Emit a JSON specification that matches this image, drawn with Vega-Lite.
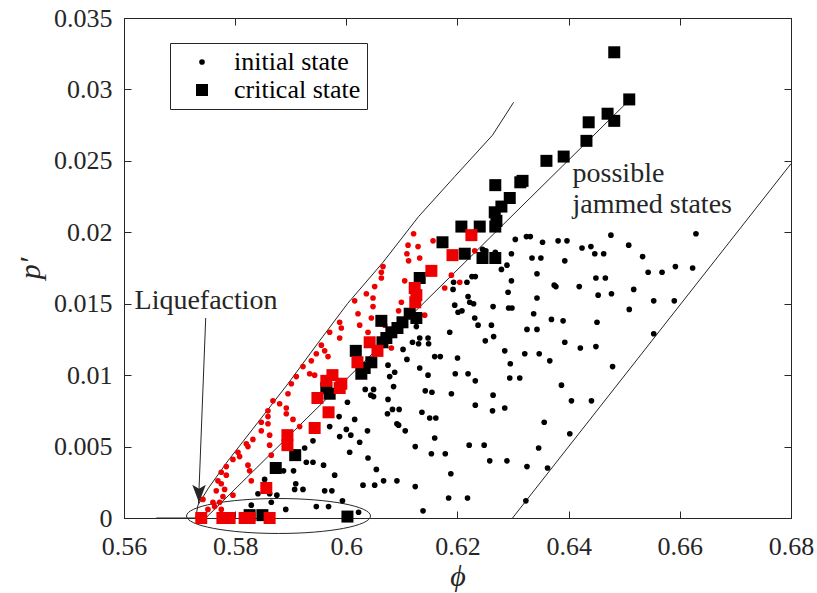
{
"$schema":"https://vega.github.io/schema/vega-lite/v6.json",
"width":667,"height":500,
"autosize":{"type":"none"},
"padding":{"left":124,"top":18,"right":26,"bottom":75},
"background":"white",
"datasets":{
"pts":[
{"phi":0.6304,"p":0.0195,"state":"initial state","kind":"jammed"},
{"phi":0.6324,"p":0.0197,"state":"initial state","kind":"jammed"},
{"phi":0.6331,"p":0.0197,"state":"initial state","kind":"jammed"},
{"phi":0.6353,"p":0.0193,"state":"initial state","kind":"jammed"},
{"phi":0.6381,"p":0.0194,"state":"initial state","kind":"jammed"},
{"phi":0.6397,"p":0.0194,"state":"initial state","kind":"jammed"},
{"phi":0.6476,"p":0.0198,"state":"initial state","kind":"jammed"},
{"phi":0.6629,"p":0.0199,"state":"initial state","kind":"jammed"},
{"phi":0.6424,"p":0.0189,"state":"initial state","kind":"jammed"},
{"phi":0.6440,"p":0.0190,"state":"initial state","kind":"jammed"},
{"phi":0.6447,"p":0.0185,"state":"initial state","kind":"jammed"},
{"phi":0.6463,"p":0.0185,"state":"initial state","kind":"jammed"},
{"phi":0.6508,"p":0.0191,"state":"initial state","kind":"jammed"},
{"phi":0.6533,"p":0.0183,"state":"initial state","kind":"jammed"},
{"phi":0.6297,"p":0.0185,"state":"initial state","kind":"jammed"},
{"phi":0.6334,"p":0.0182,"state":"initial state","kind":"jammed"},
{"phi":0.6350,"p":0.0182,"state":"initial state","kind":"jammed"},
{"phi":0.6393,"p":0.0180,"state":"initial state","kind":"jammed"},
{"phi":0.6279,"p":0.0174,"state":"initial state","kind":"jammed"},
{"phi":0.6289,"p":0.0177,"state":"initial state","kind":"jammed"},
{"phi":0.6297,"p":0.0166,"state":"initial state","kind":"jammed"},
{"phi":0.6343,"p":0.0171,"state":"initial state","kind":"jammed"},
{"phi":0.6543,"p":0.0172,"state":"initial state","kind":"jammed"},
{"phi":0.6568,"p":0.0172,"state":"initial state","kind":"jammed"},
{"phi":0.6592,"p":0.0176,"state":"initial state","kind":"jammed"},
{"phi":0.6623,"p":0.0175,"state":"initial state","kind":"jammed"},
{"phi":0.6449,"p":0.0168,"state":"initial state","kind":"jammed"},
{"phi":0.6466,"p":0.0168,"state":"initial state","kind":"jammed"},
{"phi":0.6374,"p":0.0163,"state":"initial state","kind":"jammed"},
{"phi":0.6377,"p":0.0162,"state":"initial state","kind":"jammed"},
{"phi":0.6419,"p":0.0162,"state":"initial state","kind":"jammed"},
{"phi":0.6517,"p":0.0160,"state":"initial state","kind":"jammed"},
{"phi":0.6477,"p":0.0157,"state":"initial state","kind":"jammed"},
{"phi":0.6453,"p":0.0156,"state":"initial state","kind":"jammed"},
{"phi":0.6217,"p":0.0165,"state":"initial state","kind":"jammed"},
{"phi":0.6226,"p":0.0169,"state":"initial state","kind":"jammed"},
{"phi":0.6232,"p":0.0169,"state":"initial state","kind":"jammed"},
{"phi":0.6219,"p":0.0155,"state":"initial state","kind":"jammed"},
{"phi":0.6291,"p":0.0158,"state":"initial state","kind":"jammed"},
{"phi":0.6343,"p":0.0154,"state":"initial state","kind":"jammed"},
{"phi":0.6553,"p":0.0152,"state":"initial state","kind":"jammed"},
{"phi":0.6590,"p":0.0152,"state":"initial state","kind":"jammed"},
{"phi":0.6509,"p":0.0146,"state":"initial state","kind":"jammed"},
{"phi":0.6222,"p":0.0151,"state":"initial state","kind":"jammed"},
{"phi":0.6229,"p":0.0150,"state":"initial state","kind":"jammed"},
{"phi":0.6264,"p":0.0148,"state":"initial state","kind":"jammed"},
{"phi":0.6292,"p":0.0147,"state":"initial state","kind":"jammed"},
{"phi":0.6298,"p":0.0147,"state":"initial state","kind":"jammed"},
{"phi":0.6208,"p":0.0145,"state":"initial state","kind":"jammed"},
{"phi":0.6337,"p":0.0143,"state":"initial state","kind":"jammed"},
{"phi":0.6231,"p":0.0140,"state":"initial state","kind":"jammed"},
{"phi":0.6237,"p":0.0135,"state":"initial state","kind":"jammed"},
{"phi":0.6261,"p":0.0135,"state":"initial state","kind":"jammed"},
{"phi":0.6369,"p":0.0139,"state":"initial state","kind":"jammed"},
{"phi":0.6390,"p":0.0138,"state":"initial state","kind":"jammed"},
{"phi":0.6451,"p":0.0137,"state":"initial state","kind":"jammed"},
{"phi":0.6325,"p":0.0132,"state":"initial state","kind":"jammed"},
{"phi":0.6343,"p":0.0132,"state":"initial state","kind":"jammed"},
{"phi":0.6553,"p":0.0129,"state":"initial state","kind":"jammed"},
{"phi":0.6265,"p":0.0127,"state":"initial state","kind":"jammed"},
{"phi":0.6250,"p":0.0124,"state":"initial state","kind":"jammed"},
{"phi":0.6393,"p":0.0123,"state":"initial state","kind":"jammed"},
{"phi":0.6421,"p":0.0119,"state":"initial state","kind":"jammed"},
{"phi":0.6449,"p":0.0120,"state":"initial state","kind":"jammed"},
{"phi":0.6285,"p":0.0117,"state":"initial state","kind":"jammed"},
{"phi":0.6321,"p":0.0115,"state":"initial state","kind":"jammed"},
{"phi":0.6347,"p":0.0115,"state":"initial state","kind":"jammed"},
{"phi":0.6295,"p":0.0108,"state":"initial state","kind":"jammed"},
{"phi":0.6366,"p":0.0110,"state":"initial state","kind":"jammed"},
{"phi":0.6479,"p":0.0106,"state":"initial state","kind":"jammed"},
{"phi":0.6219,"p":0.0101,"state":"initial state","kind":"jammed"},
{"phi":0.6232,"p":0.0096,"state":"initial state","kind":"jammed"},
{"phi":0.6294,"p":0.0098,"state":"initial state","kind":"jammed"},
{"phi":0.6312,"p":0.0098,"state":"initial state","kind":"jammed"},
{"phi":0.6387,"p":0.0093,"state":"initial state","kind":"jammed"},
{"phi":0.6264,"p":0.0086,"state":"initial state","kind":"jammed"},
{"phi":0.6232,"p":0.0079,"state":"initial state","kind":"jammed"},
{"phi":0.6285,"p":0.0077,"state":"initial state","kind":"jammed"},
{"phi":0.6263,"p":0.0075,"state":"initial state","kind":"jammed"},
{"phi":0.6405,"p":0.0082,"state":"initial state","kind":"jammed"},
{"phi":0.6441,"p":0.0082,"state":"initial state","kind":"jammed"},
{"phi":0.6356,"p":0.0067,"state":"initial state","kind":"jammed"},
{"phi":0.6402,"p":0.0059,"state":"initial state","kind":"jammed"},
{"phi":0.6221,"p":0.0051,"state":"initial state","kind":"jammed"},
{"phi":0.6248,"p":0.0051,"state":"initial state","kind":"jammed"},
{"phi":0.6346,"p":0.0049,"state":"initial state","kind":"jammed"},
{"phi":0.6258,"p":0.0040,"state":"initial state","kind":"jammed"},
{"phi":0.6289,"p":0.0040,"state":"initial state","kind":"jammed"},
{"phi":0.6325,"p":0.0036,"state":"initial state","kind":"jammed"},
{"phi":0.6362,"p":0.0035,"state":"initial state","kind":"jammed"},
{"phi":0.6218,"p":0.0014,"state":"initial state","kind":"jammed"},
{"phi":0.6323,"p":0.0012,"state":"initial state","kind":"jammed"},
{"phi":0.6245,"p":0.0188,"state":"initial state","kind":"jammed"},
{"phi":0.6251,"p":0.0187,"state":"initial state","kind":"jammed"},
{"phi":0.6268,"p":0.0186,"state":"initial state","kind":"jammed"},
{"phi":0.6034,"p":0.0090,"state":"initial state","kind":"jammed"},
{"phi":0.6049,"p":0.0090,"state":"initial state","kind":"jammed"},
{"phi":0.6085,"p":0.0092,"state":"initial state","kind":"jammed"},
{"phi":0.6142,"p":0.0089,"state":"initial state","kind":"jammed"},
{"phi":0.6154,"p":0.0088,"state":"initial state","kind":"jammed"},
{"phi":0.6189,"p":0.0087,"state":"initial state","kind":"jammed"},
{"phi":0.6044,"p":0.0086,"state":"initial state","kind":"jammed"},
{"phi":0.6049,"p":0.0085,"state":"initial state","kind":"jammed"},
{"phi":0.6075,"p":0.0083,"state":"initial state","kind":"jammed"},
{"phi":0.6002,"p":0.0081,"state":"initial state","kind":"jammed"},
{"phi":0.6083,"p":0.0076,"state":"initial state","kind":"jammed"},
{"phi":0.6095,"p":0.0076,"state":"initial state","kind":"jammed"},
{"phi":0.6074,"p":0.0073,"state":"initial state","kind":"jammed"},
{"phi":0.6136,"p":0.0074,"state":"initial state","kind":"jammed"},
{"phi":0.5987,"p":0.0071,"state":"initial state","kind":"jammed"},
{"phi":0.6015,"p":0.0069,"state":"initial state","kind":"jammed"},
{"phi":0.6150,"p":0.0070,"state":"initial state","kind":"jammed"},
{"phi":0.6161,"p":0.0070,"state":"initial state","kind":"jammed"},
{"phi":0.6091,"p":0.0066,"state":"initial state","kind":"jammed"},
{"phi":0.6094,"p":0.0065,"state":"initial state","kind":"jammed"},
{"phi":0.5970,"p":0.0064,"state":"initial state","kind":"jammed"},
{"phi":0.6000,"p":0.0062,"state":"initial state","kind":"jammed"},
{"phi":0.6038,"p":0.0061,"state":"initial state","kind":"jammed"},
{"phi":0.6106,"p":0.0061,"state":"initial state","kind":"jammed"},
{"phi":0.5988,"p":0.0057,"state":"initial state","kind":"jammed"},
{"phi":0.6008,"p":0.0058,"state":"initial state","kind":"jammed"},
{"phi":0.6159,"p":0.0056,"state":"initial state","kind":"jammed"},
{"phi":0.6024,"p":0.0053,"state":"initial state","kind":"jammed"},
{"phi":0.6124,"p":0.0050,"state":"initial state","kind":"jammed"},
{"phi":0.6006,"p":0.0046,"state":"initial state","kind":"jammed"},
{"phi":0.6153,"p":0.0045,"state":"initial state","kind":"jammed"},
{"phi":0.6178,"p":0.0045,"state":"initial state","kind":"jammed"},
{"phi":0.6039,"p":0.0042,"state":"initial state","kind":"jammed"},
{"phi":0.5959,"p":0.0037,"state":"initial state","kind":"jammed"},
{"phi":0.6054,"p":0.0034,"state":"initial state","kind":"jammed"},
{"phi":0.6188,"p":0.0031,"state":"initial state","kind":"jammed"},
{"phi":0.5979,"p":0.0030,"state":"initial state","kind":"jammed"},
{"phi":0.6067,"p":0.0026,"state":"initial state","kind":"jammed"},
{"phi":0.6091,"p":0.0026,"state":"initial state","kind":"jammed"},
{"phi":0.6030,"p":0.0023,"state":"initial state","kind":"jammed"},
{"phi":0.6051,"p":0.0023,"state":"initial state","kind":"jammed"},
{"phi":0.6124,"p":0.0022,"state":"initial state","kind":"jammed"},
{"phi":0.5961,"p":0.0019,"state":"initial state","kind":"jammed"},
{"phi":0.5974,"p":0.0019,"state":"initial state","kind":"jammed"},
{"phi":0.6184,"p":0.0014,"state":"initial state","kind":"jammed"},
{"phi":0.5993,"p":0.0012,"state":"initial state","kind":"jammed"},
{"phi":0.5968,"p":0.0008,"state":"initial state","kind":"jammed"},
{"phi":0.6138,"p":0.0005,"state":"initial state","kind":"jammed"},
{"phi":0.6022,"p":0.0004,"state":"initial state","kind":"jammed"},
{"phi":0.6193,"p":0.0165,"state":"initial state","kind":"jammed"},
{"phi":0.6192,"p":0.0160,"state":"initial state","kind":"jammed"},
{"phi":0.6195,"p":0.0149,"state":"initial state","kind":"jammed"},
{"phi":0.6201,"p":0.0144,"state":"initial state","kind":"jammed"},
{"phi":0.6186,"p":0.0130,"state":"initial state","kind":"jammed"},
{"phi":0.6126,"p":0.0134,"state":"initial state","kind":"jammed"},
{"phi":0.6132,"p":0.0126,"state":"initial state","kind":"jammed"},
{"phi":0.6147,"p":0.0126,"state":"initial state","kind":"jammed"},
{"phi":0.6119,"p":0.0123,"state":"initial state","kind":"jammed"},
{"phi":0.6130,"p":0.0122,"state":"initial state","kind":"jammed"},
{"phi":0.6148,"p":0.0122,"state":"initial state","kind":"jammed"},
{"phi":0.6102,"p":0.0118,"state":"initial state","kind":"jammed"},
{"phi":0.6159,"p":0.0113,"state":"initial state","kind":"jammed"},
{"phi":0.6169,"p":0.0113,"state":"initial state","kind":"jammed"},
{"phi":0.6200,"p":0.0112,"state":"initial state","kind":"jammed"},
{"phi":0.6109,"p":0.0111,"state":"initial state","kind":"jammed"},
{"phi":0.6075,"p":0.0107,"state":"initial state","kind":"jammed"},
{"phi":0.6132,"p":0.0105,"state":"initial state","kind":"jammed"},
{"phi":0.6147,"p":0.0100,"state":"initial state","kind":"jammed"},
{"phi":0.6196,"p":0.0101,"state":"initial state","kind":"jammed"},
{"phi":0.6087,"p":0.0102,"state":"initial state","kind":"jammed"},
{"phi":0.6078,"p":0.0099,"state":"initial state","kind":"jammed"},
{"phi":0.5940,"p":0.0054,"state":"initial state","kind":"jammed"},
{"phi":0.5925,"p":0.0049,"state":"initial state","kind":"jammed"},
{"phi":0.5928,"p":0.0039,"state":"initial state","kind":"jammed"},
{"phi":0.5940,"p":0.0039,"state":"initial state","kind":"jammed"},
{"phi":0.5887,"p":0.0033,"state":"initial state","kind":"jammed"},
{"phi":0.5905,"p":0.0033,"state":"initial state","kind":"jammed"},
{"phi":0.5853,"p":0.0027,"state":"initial state","kind":"jammed"},
{"phi":0.5909,"p":0.0024,"state":"initial state","kind":"jammed"},
{"phi":0.5907,"p":0.0020,"state":"initial state","kind":"jammed"},
{"phi":0.5922,"p":0.0020,"state":"initial state","kind":"jammed"},
{"phi":0.5841,"p":0.0017,"state":"initial state","kind":"jammed"},
{"phi":0.5862,"p":0.0017,"state":"initial state","kind":"jammed"},
{"phi":0.5875,"p":0.0016,"state":"initial state","kind":"jammed"},
{"phi":0.5865,"p":0.0011,"state":"initial state","kind":"jammed"},
{"phi":0.5829,"p":0.0009,"state":"initial state","kind":"jammed"},
{"phi":0.5891,"p":0.0006,"state":"initial state","kind":"jammed"},
{"phi":0.5946,"p":0.0008,"state":"initial state","kind":"jammed"},
{"phi":0.6121,"p":0.0199,"state":"initial state","kind":"liquefied"},
{"phi":0.6156,"p":0.0194,"state":"initial state","kind":"liquefied"},
{"phi":0.6111,"p":0.0191,"state":"initial state","kind":"liquefied"},
{"phi":0.6129,"p":0.0190,"state":"initial state","kind":"liquefied"},
{"phi":0.6109,"p":0.0185,"state":"initial state","kind":"liquefied"},
{"phi":0.6132,"p":0.0182,"state":"initial state","kind":"liquefied"},
{"phi":0.6112,"p":0.0180,"state":"initial state","kind":"liquefied"},
{"phi":0.6066,"p":0.0176,"state":"initial state","kind":"liquefied"},
{"phi":0.6063,"p":0.0172,"state":"initial state","kind":"liquefied"},
{"phi":0.6063,"p":0.0168,"state":"initial state","kind":"liquefied"},
{"phi":0.6051,"p":0.0162,"state":"initial state","kind":"liquefied"},
{"phi":0.6105,"p":0.0166,"state":"initial state","kind":"liquefied"},
{"phi":0.6036,"p":0.0157,"state":"initial state","kind":"liquefied"},
{"phi":0.6048,"p":0.0154,"state":"initial state","kind":"liquefied"},
{"phi":0.6015,"p":0.0152,"state":"initial state","kind":"liquefied"},
{"phi":0.6099,"p":0.0151,"state":"initial state","kind":"liquefied"},
{"phi":0.6048,"p":0.0148,"state":"initial state","kind":"liquefied"},
{"phi":0.6021,"p":0.0143,"state":"initial state","kind":"liquefied"},
{"phi":0.6045,"p":0.0140,"state":"initial state","kind":"liquefied"},
{"phi":0.6094,"p":0.0145,"state":"initial state","kind":"liquefied"},
{"phi":0.5988,"p":0.0137,"state":"initial state","kind":"liquefied"},
{"phi":0.6024,"p":0.0135,"state":"initial state","kind":"liquefied"},
{"phi":0.5991,"p":0.0133,"state":"initial state","kind":"liquefied"},
{"phi":0.6039,"p":0.0130,"state":"initial state","kind":"liquefied"},
{"phi":0.5970,"p":0.0130,"state":"initial state","kind":"liquefied"},
{"phi":0.5988,"p":0.0126,"state":"initial state","kind":"liquefied"},
{"phi":0.5955,"p":0.0121,"state":"initial state","kind":"liquefied"},
{"phi":0.5961,"p":0.0117,"state":"initial state","kind":"liquefied"},
{"phi":0.6081,"p":0.0119,"state":"initial state","kind":"liquefied"},
{"phi":0.5967,"p":0.0113,"state":"initial state","kind":"liquefied"},
{"phi":0.6141,"p":0.0142,"state":"initial state","kind":"liquefied"},
{"phi":0.6189,"p":0.0170,"state":"initial state","kind":"liquefied"},
{"phi":0.6177,"p":0.0161,"state":"initial state","kind":"liquefied"},
{"phi":0.6069,"p":0.0135,"state":"initial state","kind":"liquefied"},
{"phi":0.5946,"p":0.0115,"state":"initial state","kind":"liquefied"},
{"phi":0.5937,"p":0.0110,"state":"initial state","kind":"liquefied"},
{"phi":0.5922,"p":0.0106,"state":"initial state","kind":"liquefied"},
{"phi":0.5934,"p":0.0101,"state":"initial state","kind":"liquefied"},
{"phi":0.5943,"p":0.0100,"state":"initial state","kind":"liquefied"},
{"phi":0.5910,"p":0.0099,"state":"initial state","kind":"liquefied"},
{"phi":0.5901,"p":0.0094,"state":"initial state","kind":"liquefied"},
{"phi":0.5895,"p":0.0087,"state":"initial state","kind":"liquefied"},
{"phi":0.5880,"p":0.0080,"state":"initial state","kind":"liquefied"},
{"phi":0.5892,"p":0.0077,"state":"initial state","kind":"liquefied"},
{"phi":0.5868,"p":0.0082,"state":"initial state","kind":"liquefied"},
{"phi":0.5859,"p":0.0075,"state":"initial state","kind":"liquefied"},
{"phi":0.5892,"p":0.0073,"state":"initial state","kind":"liquefied"},
{"phi":0.5859,"p":0.0071,"state":"initial state","kind":"liquefied"},
{"phi":0.5847,"p":0.0067,"state":"initial state","kind":"liquefied"},
{"phi":0.5859,"p":0.0066,"state":"initial state","kind":"liquefied"},
{"phi":0.5904,"p":0.0069,"state":"initial state","kind":"liquefied"},
{"phi":0.5847,"p":0.0061,"state":"initial state","kind":"liquefied"},
{"phi":0.5862,"p":0.0058,"state":"initial state","kind":"liquefied"},
{"phi":0.5916,"p":0.0064,"state":"initial state","kind":"liquefied"},
{"phi":0.5832,"p":0.0055,"state":"initial state","kind":"liquefied"},
{"phi":0.5820,"p":0.0052,"state":"initial state","kind":"liquefied"},
{"phi":0.5823,"p":0.0050,"state":"initial state","kind":"liquefied"},
{"phi":0.5862,"p":0.0051,"state":"initial state","kind":"liquefied"},
{"phi":0.5805,"p":0.0046,"state":"initial state","kind":"liquefied"},
{"phi":0.5808,"p":0.0043,"state":"initial state","kind":"liquefied"},
{"phi":0.5796,"p":0.0041,"state":"initial state","kind":"liquefied"},
{"phi":0.5823,"p":0.0037,"state":"initial state","kind":"liquefied"},
{"phi":0.5865,"p":0.0044,"state":"initial state","kind":"liquefied"},
{"phi":0.5784,"p":0.0036,"state":"initial state","kind":"liquefied"},
{"phi":0.5826,"p":0.0033,"state":"initial state","kind":"liquefied"},
{"phi":0.5775,"p":0.0032,"state":"initial state","kind":"liquefied"},
{"phi":0.5784,"p":0.0030,"state":"initial state","kind":"liquefied"},
{"phi":0.5769,"p":0.0026,"state":"initial state","kind":"liquefied"},
{"phi":0.5775,"p":0.0024,"state":"initial state","kind":"liquefied"},
{"phi":0.5829,"p":0.0026,"state":"initial state","kind":"liquefied"},
{"phi":0.5781,"p":0.0020,"state":"initial state","kind":"liquefied"},
{"phi":0.5766,"p":0.0019,"state":"initial state","kind":"liquefied"},
{"phi":0.5796,"p":0.0016,"state":"initial state","kind":"liquefied"},
{"phi":0.5778,"p":0.0015,"state":"initial state","kind":"liquefied"},
{"phi":0.5760,"p":0.0011,"state":"initial state","kind":"liquefied"},
{"phi":0.5742,"p":0.0013,"state":"initial state","kind":"liquefied"},
{"phi":0.5772,"p":0.0011,"state":"initial state","kind":"liquefied"},
{"phi":0.5763,"p":0.0008,"state":"initial state","kind":"liquefied"},
{"phi":0.5751,"p":0.0006,"state":"initial state","kind":"liquefied"},
{"phi":0.5775,"p":0.0006,"state":"initial state","kind":"liquefied"},
{"phi":0.6231,"p":0.0187,"state":"initial state","kind":"liquefied"},
{"phi":0.6204,"p":0.0165,"state":"initial state","kind":"liquefied"},
{"phi":0.6482,"p":0.0326,"state":"critical state","kind":"jammed"},
{"phi":0.6509,"p":0.0293,"state":"critical state","kind":"jammed"},
{"phi":0.6470,"p":0.0283,"state":"critical state","kind":"jammed"},
{"phi":0.6482,"p":0.0278,"state":"critical state","kind":"jammed"},
{"phi":0.6436,"p":0.0277,"state":"critical state","kind":"jammed"},
{"phi":0.6432,"p":0.0264,"state":"critical state","kind":"jammed"},
{"phi":0.6391,"p":0.0253,"state":"critical state","kind":"jammed"},
{"phi":0.6360,"p":0.0250,"state":"critical state","kind":"jammed"},
{"phi":0.6317,"p":0.0236,"state":"critical state","kind":"jammed"},
{"phi":0.6313,"p":0.0235,"state":"critical state","kind":"jammed"},
{"phi":0.6268,"p":0.0233,"state":"critical state","kind":"jammed"},
{"phi":0.6294,"p":0.0224,"state":"critical state","kind":"jammed"},
{"phi":0.6279,"p":0.0218,"state":"critical state","kind":"jammed"},
{"phi":0.6267,"p":0.0214,"state":"critical state","kind":"jammed"},
{"phi":0.6270,"p":0.0208,"state":"critical state","kind":"jammed"},
{"phi":0.6268,"p":0.0204,"state":"critical state","kind":"jammed"},
{"phi":0.6240,"p":0.0204,"state":"critical state","kind":"jammed"},
{"phi":0.6207,"p":0.0204,"state":"critical state","kind":"jammed"},
{"phi":0.6245,"p":0.0182,"state":"critical state","kind":"jammed"},
{"phi":0.6268,"p":0.0182,"state":"critical state","kind":"jammed"},
{"phi":0.6213,"p":0.0185,"state":"critical state","kind":"jammed"},
{"phi":0.6173,"p":0.0193,"state":"critical state","kind":"jammed"},
{"phi":0.6132,"p":0.0168,"state":"critical state","kind":"jammed"},
{"phi":0.6063,"p":0.0138,"state":"critical state","kind":"jammed"},
{"phi":0.6126,"p":0.0140,"state":"critical state","kind":"jammed"},
{"phi":0.6114,"p":0.0143,"state":"critical state","kind":"jammed"},
{"phi":0.6101,"p":0.0137,"state":"critical state","kind":"jammed"},
{"phi":0.6092,"p":0.0133,"state":"critical state","kind":"jammed"},
{"phi":0.6081,"p":0.0130,"state":"critical state","kind":"jammed"},
{"phi":0.6072,"p":0.0126,"state":"critical state","kind":"jammed"},
{"phi":0.6065,"p":0.0123,"state":"critical state","kind":"jammed"},
{"phi":0.6017,"p":0.0117,"state":"critical state","kind":"jammed"},
{"phi":0.6045,"p":0.0109,"state":"critical state","kind":"jammed"},
{"phi":0.6033,"p":0.0105,"state":"critical state","kind":"jammed"},
{"phi":0.6027,"p":0.0101,"state":"critical state","kind":"jammed"},
{"phi":0.5970,"p":0.0087,"state":"critical state","kind":"jammed"},
{"phi":0.5964,"p":0.0091,"state":"critical state","kind":"jammed"},
{"phi":0.5908,"p":0.0044,"state":"critical state","kind":"jammed"},
{"phi":0.5873,"p":0.0035,"state":"critical state","kind":"jammed"},
{"phi":0.5826,"p":0.0002,"state":"critical state","kind":"jammed"},
{"phi":0.5849,"p":0.0002,"state":"critical state","kind":"jammed"},
{"phi":0.6002,"p":0.0001,"state":"critical state","kind":"jammed"},
{"phi":0.6225,"p":0.0198,"state":"critical state","kind":"liquefied"},
{"phi":0.6191,"p":0.0184,"state":"critical state","kind":"liquefied"},
{"phi":0.6153,"p":0.0173,"state":"critical state","kind":"liquefied"},
{"phi":0.6123,"p":0.0161,"state":"critical state","kind":"liquefied"},
{"phi":0.6126,"p":0.0156,"state":"critical state","kind":"liquefied"},
{"phi":0.6124,"p":0.0151,"state":"critical state","kind":"liquefied"},
{"phi":0.6042,"p":0.0123,"state":"critical state","kind":"liquefied"},
{"phi":0.6056,"p":0.0117,"state":"critical state","kind":"liquefied"},
{"phi":0.6020,"p":0.0109,"state":"critical state","kind":"liquefied"},
{"phi":0.5975,"p":0.0100,"state":"critical state","kind":"liquefied"},
{"phi":0.5991,"p":0.0094,"state":"critical state","kind":"liquefied"},
{"phi":0.5964,"p":0.0096,"state":"critical state","kind":"liquefied"},
{"phi":0.5988,"p":0.0091,"state":"critical state","kind":"liquefied"},
{"phi":0.5948,"p":0.0084,"state":"critical state","kind":"liquefied"},
{"phi":0.5968,"p":0.0074,"state":"critical state","kind":"liquefied"},
{"phi":0.5943,"p":0.0063,"state":"critical state","kind":"liquefied"},
{"phi":0.5894,"p":0.0058,"state":"critical state","kind":"liquefied"},
{"phi":0.5894,"p":0.0051,"state":"critical state","kind":"liquefied"},
{"phi":0.5856,"p":0.0021,"state":"critical state","kind":"liquefied"},
{"phi":0.5739,"p":0.0000,"state":"critical state","kind":"liquefied"},
{"phi":0.5777,"p":0.0000,"state":"critical state","kind":"liquefied"},
{"phi":0.5790,"p":0.0000,"state":"critical state","kind":"liquefied"},
{"phi":0.5817,"p":0.0000,"state":"critical state","kind":"liquefied"},
{"phi":0.5826,"p":0.0000,"state":"critical state","kind":"liquefied"},
{"phi":0.5862,"p":0.0000,"state":"critical state","kind":"liquefied"}
],
"curves":[
{"curve":"upper","phi":0.5658,"p":0},
{"curve":"upper","phi":0.5729,"p":0},
{"curve":"upper","phi":0.5733,"p":0.0009},
{"curve":"upper","phi":0.5752,"p":0.0021},
{"curve":"upper","phi":0.5787,"p":0.0040},
{"curve":"upper","phi":0.5841,"p":0.0067},
{"curve":"upper","phi":0.5895,"p":0.0094},
{"curve":"upper","phi":0.5948,"p":0.0122},
{"curve":"upper","phi":0.6002,"p":0.0150},
{"curve":"upper","phi":0.6066,"p":0.0179},
{"curve":"upper","phi":0.6130,"p":0.0211},
{"curve":"upper","phi":0.6195,"p":0.0239},
{"curve":"upper","phi":0.6263,"p":0.0268},
{"curve":"upper","phi":0.6301,"p":0.0291},
{"curve":"critical","phi":0.5747,"p":0},
{"curve":"critical","phi":0.6513,"p":0.0294},
{"curve":"lower","phi":0.6299,"p":0},
{"curve":"lower","phi":0.68,"p":0.0248}
]
},
"layer":[
{"data":{"name":"curves"},
 "mark":{"type":"line","color":"#262626","strokeWidth":1},
 "encoding":{
  "x":{"field":"phi","type":"quantitative","scale":{"domain":[0.56,0.68],"nice":false,"zero":false},
       "axis":{"orient":"top","labels":false,"title":null,"values":[0.56,0.58,0.6,0.62,0.64,0.66,0.68]}},
  "y":{"field":"p","type":"quantitative","scale":{"domain":[0,0.035],"nice":false,"zero":false},
       "axis":{"orient":"right","labels":false,"title":null,"values":[0,0.005,0.01,0.015,0.02,0.025,0.03,0.035]}},
  "detail":{"field":"curve","type":"nominal"}
 }},
{"data":{"values":[{"phi":0.5878,"p":0.00014}]},
 "mark":{"type":"point","shape":"M-1,0A1,0.19,0,1,1,1,0A1,0.19,0,1,1,-1,0Z","size":33856,"filled":false,"color":"#262626","strokeWidth":1,"opacity":1},
 "encoding":{"x":{"field":"phi","type":"quantitative","axis":null},"y":{"field":"p","type":"quantitative","axis":null}}},
{"data":{"name":"pts"},
 "mark":{"type":"point","filled":true,"opacity":1,"strokeWidth":0,"color":"black"},
 "encoding":{
  "x":{"field":"phi","type":"quantitative",
       "axis":{"orient":"bottom","title":"ϕ","values":[0.56,0.58,0.6,0.62,0.64,0.66,0.68],"format":"~g","labelPadding":22,"titlePadding":2}},
  "y":{"field":"p","type":"quantitative",
       "axis":{"orient":"left","title":"p′","values":[0,0.005,0.01,0.015,0.02,0.025,0.03,0.035],"format":"~g","titlePadding":8}},
  "color":{"field":"kind","type":"nominal","scale":{"domain":["jammed","liquefied"],"range":["black","#ee0000"]},"legend":null},
  "shape":{"field":"state","type":"nominal","scale":{"domain":["initial state","critical state"],"range":["circle","square"]},
     "legend":{"orient":"none","legendX":46,"legendY":25,"title":null,"padding":6,"strokeColor":"#262626","fillColor":"white","labelFontSize":26,"labelFont":"Liberation Serif","labelColor":"black","symbolOffset":13,"labelOffset":19,"rowPadding":2,"symbolFillColor":"black","symbolStrokeWidth":0}},
  "size":{"field":"state","type":"nominal","scale":{"type":"ordinal","domain":["initial state","critical state"],"range":[32,144]},
     "legend":{"orient":"none","legendX":46,"legendY":25,"title":null,"padding":6,"strokeColor":"#262626","fillColor":"white","labelFontSize":26,"labelFont":"Liberation Serif","labelColor":"black","symbolOffset":13,"labelOffset":19,"rowPadding":2,"symbolFillColor":"black","symbolStrokeWidth":0}}
 }},
{"data":{"values":[{"phi":0.5747,"p":0.0140,"phi2":0.5734,"p2":0.0010}]},
 "mark":{"type":"rule","color":"#262626","strokeWidth":1},
 "encoding":{"x":{"field":"phi","type":"quantitative","axis":null},"y":{"field":"p","type":"quantitative","axis":null},"x2":{"field":"phi2"},"y2":{"field":"p2"}}},
{"data":{"values":[{"phi":0.5735,"p":0.0017}]},
 "mark":{"type":"point","shape":"M0,1L-0.75,-1L0,-0.55L0.75,-1Z","size":324,"filled":true,"color":"#262626","strokeWidth":0,"opacity":1},
 "encoding":{"x":{"field":"phi","type":"quantitative","axis":null},"y":{"field":"p","type":"quantitative","axis":null}}},
{"data":{"values":[{"phi":0.5619,"p":0.01466,"label":"Liquefaction"},{"phi":0.6407,"p":0.02353,"label":"possible"},{"phi":0.6407,"p":0.02132,"label":"jammed states"}]},
 "mark":{"type":"text","font":"Liberation Serif","fontSize":28,"align":"left","baseline":"alphabetic","color":"#262626"},
 "encoding":{"x":{"field":"phi","type":"quantitative","axis":null},"y":{"field":"p","type":"quantitative","axis":null},"text":{"field":"label"}}}
],
"resolve":{"axis":{"x":"independent","y":"independent"}},
"config":{
 "view":{"stroke":"#262626","strokeWidth":1},
 "axis":{"grid":false,"tickSize":-7,"tickColor":"#262626","domainColor":"#262626","labelColor":"#262626","labelFont":"Liberation Serif","labelFontSize":26,"labelFlush":false,"labelOverlap":false,"labelPadding":19,"titleFont":"Liberation Serif","titleFontSize":30,"titleFontStyle":"italic","titleFontWeight":"normal","titleColor":"#262626"}
}
}
